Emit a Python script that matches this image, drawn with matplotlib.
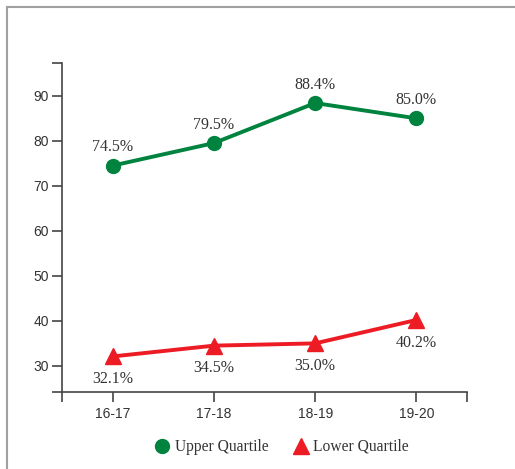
import matplotlib.pyplot as plt
from matplotlib.lines import Line2D

# data
years = ['16-17', '17-18', '18-19', '19-20']
upper = [74.5, 79.5, 88.4, 85.0]
lower = [32.1, 34.5, 35.0, 40.2]
yticks = [30, 40, 50, 60, 70, 80, 90]

green = '#00833f'
red = '#ed1c24'
txt = '#333333'

fig = plt.figure(figsize=(5.15, 4.69), dpi=100)
ax = fig.add_axes([0.1204, 0.1642, 0.7864, 0.7015])

x = list(range(len(years)))
ax.plot(x, upper, color=green, lw=2.8, marker='o', ms=10, label='Upper Quartile')
ax.plot(x, lower, color=red, lw=2.8, marker='^', ms=11, label='Lower Quartile')

for xi, v in zip(x, upper):
    ax.annotate(f'{v:.1f}%', (xi, v), xytext=(0, 7.5), textcoords='offset points',
                ha='center', va='bottom', fontsize=11.5, family='Liberation Serif', color=txt)
for xi, v in zip(x, lower):
    ax.annotate(f'{v:.1f}%', (xi, v), xytext=(0, -10.5), textcoords='offset points',
                ha='center', va='top', fontsize=11.5, family='Liberation Serif', color=txt)

ax.set_xlim(-0.5, 3.5)
ax.set_ylim(24.2, 97.3)
ax.set_xticks(x)
ax.set_xticklabels(years)
ax.set_yticks(yticks)
ax.set_xticks([-0.5, 3.5], minor=True)
ax.set_yticks([24.2, 97.3], minor=True)

for s in ['top', 'right']:
    ax.spines[s].set_visible(False)
for s in ['left', 'bottom']:
    ax.spines[s].set_color('#444444')
    ax.spines[s].set_linewidth(1.2)

ax.tick_params(which='both', length=7, width=1.2, color='#444444',
               labelsize=10, labelcolor=txt)
ax.tick_params(axis='y', pad=2.5)
for lab in ax.get_xticklabels() + ax.get_yticklabels():
    lab.set_family('Liberation Sans')

leg = fig.legend(loc='center', bbox_to_anchor=(0.547, 0.047), ncol=2, frameon=False,
                 prop={'family': 'Liberation Serif', 'size': 11.2},
                 handlelength=1.0, handletextpad=0.3, columnspacing=1.6)
for h in leg.legend_handles:
    h.set_linestyle('')
for t in leg.get_texts():
    t.set_color(txt)

# outer frame (top and left edges only)
fig.add_artist(Line2D([0.0136, 1.0], [0.985, 0.985], transform=fig.transFigure,
                      color='#a0a0a0', lw=1.5))
fig.add_artist(Line2D([0.0136, 0.0136], [0.0, 0.985], transform=fig.transFigure,
                      color='#a0a0a0', lw=1.5))

fig.savefig('out.png', dpi=100)
